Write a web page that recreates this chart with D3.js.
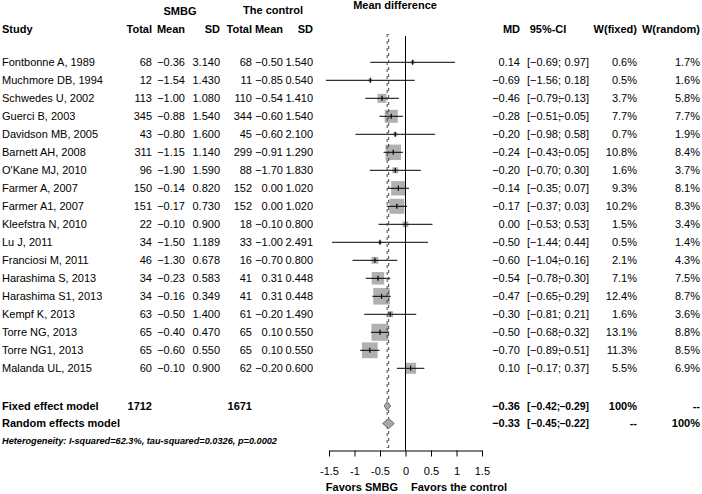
<!DOCTYPE html>
<html>
<head>
<meta charset="utf-8">
<script src="https://cdn.jsdelivr.net/npm/d3@7"></script>
<style>
  body { margin: 0; background: #fff; }
  text { font-family: "Liberation Sans", Arial, sans-serif; font-size: 11px; fill: #000; }
  .bold { font-weight: bold; }
</style>
</head>
<body>
<div id="forest"></div>
<script>
let svgWidth = 702;
let svgHeight = 494;

// Data =========================
let studies = ["Fontbonne A, 1989", "Muchmore DB, 1994", "Schwedes U, 2002", "Guerci B, 2003",
  "Davidson MB, 2005", "Barnett AH, 2008", "O'Kane MJ, 2010", "Farmer A, 2007", "Farmer A1, 2007",
  "Kleefstra N, 2010", "Lu J, 2011", "Franciosi M, 2011", "Harashima S, 2013", "Harashima S1, 2013",
  "Kempf K, 2013", "Torre NG, 2013", "Torre NG1, 2013", "Malanda UL, 2015"];
let smbgTotal = [68, 12, 113, 345, 43, 311, 96, 150, 151, 22, 34, 46, 34, 34, 63, 65, 65, 60];
let smbgMean = [-0.36, -1.54, -1.00, -0.88, -0.80, -1.15, -1.90, -0.14, -0.17, -0.10, -1.50, -1.30, -0.23, -0.16, -0.50, -0.40, -0.60, -0.10];
let smbgSD = [3.140, 1.430, 1.080, 1.540, 1.600, 1.140, 1.590, 0.820, 0.730, 0.900, 1.189, 0.678, 0.583, 0.349, 1.400, 0.470, 0.550, 0.900];
let ctrlTotal = [68, 11, 110, 344, 45, 299, 88, 152, 152, 18, 33, 16, 41, 41, 61, 65, 65, 62];
let ctrlMean = [-0.50, -0.85, -0.54, -0.60, -0.60, -0.91, -1.70, 0.00, 0.00, -0.10, -1.00, -0.70, 0.31, 0.31, -0.20, 0.10, 0.10, -0.20];
let ctrlSD = [1.540, 0.540, 1.410, 1.540, 2.100, 1.290, 1.830, 1.020, 1.020, 0.800, 2.491, 0.800, 0.448, 0.448, 1.490, 0.550, 0.550, 0.600];
let md = [0.14, -0.69, -0.46, -0.28, -0.20, -0.24, -0.20, -0.14, -0.17, 0.00, -0.50, -0.60, -0.54, -0.47, -0.30, -0.50, -0.70, 0.10];
let ciLow = [-0.69, -1.56, -0.79, -0.51, -0.98, -0.43, -0.70, -0.35, -0.37, -0.53, -1.44, -1.04, -0.78, -0.65, -0.81, -0.68, -0.89, -0.17];
let ciHigh = [0.97, 0.18, -0.13, -0.05, 0.58, -0.05, 0.30, 0.07, 0.03, 0.53, 0.44, -0.16, -0.30, -0.29, 0.21, -0.32, -0.51, 0.37];
let wFixed = [0.6, 0.5, 3.7, 7.7, 0.7, 10.8, 1.6, 9.3, 10.2, 1.5, 0.5, 2.1, 7.1, 12.4, 1.6, 13.1, 11.3, 5.5];
let wRandom = [1.7, 1.6, 5.8, 7.7, 1.9, 8.4, 3.7, 8.1, 8.3, 3.4, 1.4, 4.3, 7.5, 8.7, 3.6, 8.8, 8.5, 6.9];

let pooledTotals = [1712, 1671];
let models = ["Fixed effect model", "Random effects model"];
let modelMD = [-0.36, -0.33];
let modelLow = [-0.42, -0.45];
let modelHigh = [-0.29, -0.22];
let modelWFixed = ["100%", "--"];
let modelWRandom = ["--", "100%"];
let heterogeneity = "Heterogeneity: I-squared=62.3%, tau-squared=0.0326, p=0.0002";
let xTicks = [-1.5, -1, -0.5, 0, 0.5, 1, 1.5];

let rows = studies.map((s, i) => ({
  study: s, n1: smbgTotal[i], m1: smbgMean[i], sd1: smbgSD[i],
  n2: ctrlTotal[i], m2: ctrlMean[i], sd2: ctrlSD[i],
  md: md[i], lo: ciLow[i], hi: ciHigh[i], wf: wFixed[i], wr: wRandom[i]
}));

let svg = d3.select("#forest").append("svg").attr("width", svgWidth).attr("height", svgHeight);

// Scales =========================
let x = d3.scaleLinear().domain([-1.5, 1.5]).range([329, 482]);
let y = d3.scalePoint().domain(studies).range([62.3, 368.3]);
let yModel = d3.scalePoint().domain(models).range([406, 423.5]);
let axisY = 450.5;
let f2 = d3.format(".2f"), f3 = d3.format(".3f"), f1 = d3.format(".1f");

// Columns (right edge x)
let col = { n1: 152, m1: 185, sd1: 220, n2: 252, m2: 283, sd2: 313, md: 520, ciL: 527, ciR: 589, wf: 637, wr: 700 };

// Headers =========================
let hdr = svg.append("g").attr("class", "bold");
hdr.append("text").attr("x", 2).attr("y", 29).attr("dy", "0.35em").text("Study");
[["Total", col.n1], ["Mean", col.m1], ["SD", col.sd1], ["Total", col.n2], ["Mean", col.m2], ["SD", col.sd2],
 ["MD", col.md], ["W(fixed)", col.wf], ["W(random)", col.wr]].forEach(d => {
  hdr.append("text").attr("x", d[1]).attr("y", 29).attr("dy", "0.35em").attr("text-anchor", "end").text(d[0]);
});
hdr.append("text").attr("x", 548).attr("y", 29).attr("dy", "0.35em").attr("text-anchor", "middle").text("95%-CI");
hdr.append("text").attr("x", 180).attr("y", 11).attr("dy", "0.35em").attr("text-anchor", "middle").text("SMBG");
hdr.append("text").attr("x", 273).attr("y", 10).attr("dy", "0.35em").attr("text-anchor", "middle").text("The control");
hdr.append("text").attr("x", 395).attr("y", 5).attr("dy", "0.35em").attr("text-anchor", "middle").text("Mean difference");

// Study rows =========================
let rowG = svg.selectAll("g.row").data(rows).enter().append("g")
  .attr("class", "row")
  .attr("transform", d => `translate(0, ${y(d.study)})`);

rowG.append("text").attr("x", 2).attr("dy", "0.35em").text(d => d.study);
let cells = [
  ["n1", d => d.n1], ["m1", d => f2(d.m1)], ["sd1", d => f3(d.sd1)],
  ["n2", d => d.n2], ["m2", d => f2(d.m2)], ["sd2", d => f3(d.sd2)],
  ["md", d => f2(d.md)], ["ciR", d => f2(d.hi) + "]"],
  ["wf", d => f1(d.wf) + "%"], ["wr", d => f1(d.wr) + "%"]
];
cells.forEach(c => {
  rowG.append("text").attr("x", col[c[0]]).attr("dy", "0.35em").attr("text-anchor", "end").text(c[1]);
});
rowG.append("text").attr("x", col.ciL).attr("dy", "0.35em").text(d => "[" + f2(d.lo) + ";");

// Reference lines =========================
svg.append("line")
  .attr("x1", x(0)).attr("x2", x(0)).attr("y1", 36).attr("y2", axisY)
  .attr("stroke", "#000").attr("stroke-width", 1);

modelMD.forEach((v, i) => {
  svg.append("line")
    .attr("x1", x(v)).attr("x2", x(v)).attr("y1", 34).attr("y2", 448)
    .attr("stroke", "#444").attr("stroke-width", 1)
    .attr("stroke-dasharray", "3,4")
    .attr("stroke-dashoffset", i * 2);
});

// Squares and CIs =========================
let maxW = d3.max(wFixed);
let boxSize = w => 17 * Math.sqrt(w / maxW);

rowG.append("rect")
  .attr("x", d => x(d.md) - boxSize(d.wf) / 2)
  .attr("y", d => -boxSize(d.wf) / 2)
  .attr("width", d => boxSize(d.wf))
  .attr("height", d => boxSize(d.wf))
  .attr("fill", "#b0b0b0");

rowG.append("line")
  .attr("x1", d => x(d.lo)).attr("x2", d => x(d.hi))
  .attr("stroke", "#000").attr("stroke-width", 1);

rowG.append("line")
  .attr("x1", d => x(d.md)).attr("x2", d => x(d.md))
  .attr("y1", -2.5).attr("y2", 2.5)
  .attr("stroke", "#000").attr("stroke-width", 1.2);

// Pooled models =========================
models.forEach((m, i) => {
  let yy = yModel(m);
  let h = i === 0 ? 4.5 : 5;
  svg.append("text").attr("class", "bold").attr("x", 2).attr("y", yy).attr("dy", "0.35em").text(m);
  if (i === 0) {
    svg.append("text").attr("class", "bold").attr("x", col.n1).attr("y", yy).attr("dy", "0.35em")
      .attr("text-anchor", "end").text(pooledTotals[0]);
    svg.append("text").attr("class", "bold").attr("x", col.n2).attr("y", yy).attr("dy", "0.35em")
      .attr("text-anchor", "end").text(pooledTotals[1]);
  }
  let pts = [[x(modelLow[i]), yy], [x(modelMD[i]), yy - h], [x(modelHigh[i]), yy], [x(modelMD[i]), yy + h]];
  svg.append("path")
    .attr("d", d3.line()(pts) + "Z")
    .attr("fill", "#a8a8a8").attr("stroke", "#555").attr("stroke-width", 0.8);
  let g = svg.append("g").attr("class", "bold").attr("transform", `translate(0, ${yy})`);
  g.append("text").attr("x", col.md).attr("dy", "0.35em").attr("text-anchor", "end").text(f2(modelMD[i]));
  g.append("text").attr("x", col.ciL).attr("dy", "0.35em").style("font-size", "10.4px").text("[" + f2(modelLow[i]) + ";");
  g.append("text").attr("x", col.ciR).attr("dy", "0.35em").style("font-size", "10.4px").attr("text-anchor", "end").text(f2(modelHigh[i]) + "]");
  g.append("text").attr("x", col.wf).attr("dy", "0.35em").attr("text-anchor", "end").text(modelWFixed[i]);
  g.append("text").attr("x", col.wr).attr("dy", "0.35em").attr("text-anchor", "end").text(modelWRandom[i]);
});

svg.append("text")
  .attr("x", 2).attr("y", 441).attr("dy", "0.35em")
  .style("font-size", "9.2px").style("font-weight", "bold").style("font-style", "italic")
  .text(heterogeneity);

// Axis =========================
let xAxis = svg.append("g")
  .attr("transform", `translate(0, ${axisY})`)
  .call(d3.axisBottom(x).tickValues(xTicks).tickFormat(d => String(d)).tickSize(6).tickSizeOuter(0).tickPadding(11));
xAxis.selectAll("text").style("font-size", "11px").attr("fill", "#000");
xAxis.selectAll("line, path").attr("stroke", "#000");

svg.append("text").attr("x", 398).attr("y", 487).attr("dy", "0.35em").attr("text-anchor", "end")
  .style("font-family", "'Liberation Sans Narrow', 'Liberation Sans', sans-serif").style("font-weight", "bold")
  .text("Favors SMBG");
svg.append("text").attr("x", 411).attr("y", 487).attr("dy", "0.35em")
  .style("font-family", "'Liberation Sans Narrow', 'Liberation Sans', sans-serif").style("font-weight", "bold")
  .text("Favors the control");
</script>
</body>
</html>
